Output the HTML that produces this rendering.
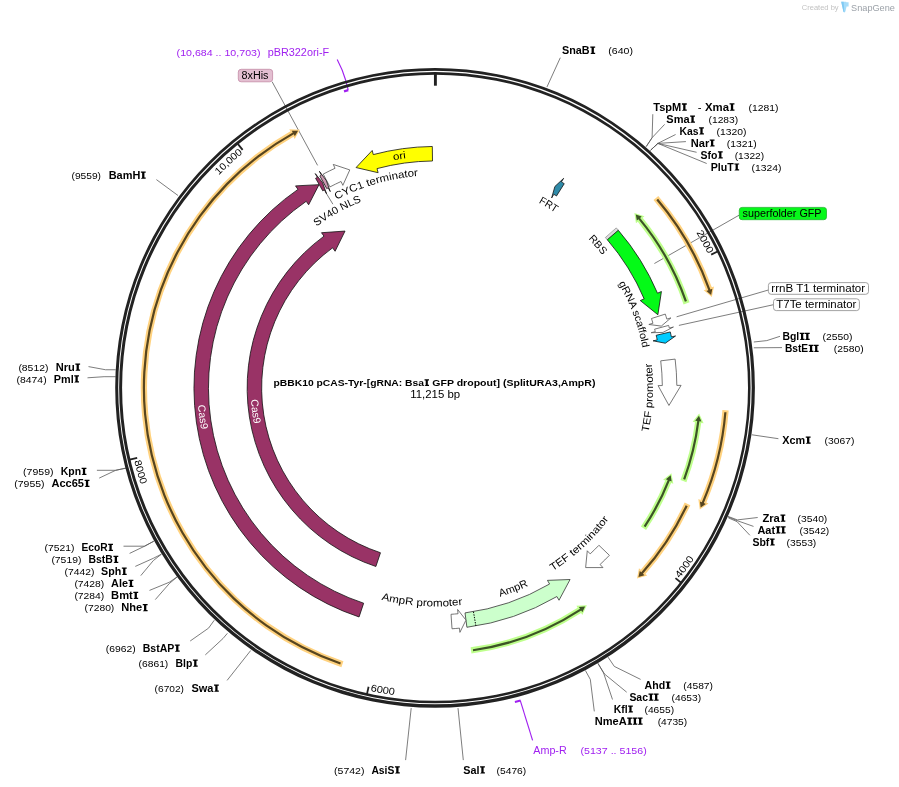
<!DOCTYPE html>
<html><head><meta charset="utf-8"><title>pBBK10 plasmid map</title>
<style>html,body{margin:0;padding:0;background:#fff}svg{display:block;will-change:transform}text{font-family:"Liberation Sans", sans-serif;white-space:pre}</style></head>
<body>
<svg width="899" height="787" viewBox="0 0 899 787" font-family='"Liberation Sans", sans-serif'>
<rect width="899" height="787" fill="#fff"/>
<polyline points="560.3,57.7 546.9,87.1" fill="none" stroke="#5c5c5c" stroke-width="0.8"/>
<polyline points="652.8,114.2 652.1,137.7 646.2,146.6" fill="none" stroke="#5c5c5c" stroke-width="0.8"/>
<polyline points="664.6,124.4 652.1,137.7 646.2,146.6" fill="none" stroke="#5c5c5c" stroke-width="0.8"/>
<polyline points="675.6,134.5 657.8,143.4 650.7,150.2" fill="none" stroke="#5c5c5c" stroke-width="0.8"/>
<polyline points="685.9,141.6 657.8,143.4 650.7,150.2" fill="none" stroke="#5c5c5c" stroke-width="0.8"/>
<polyline points="696.6,152.3 657.8,143.4 650.7,150.2" fill="none" stroke="#5c5c5c" stroke-width="0.8"/>
<polyline points="706.7,163.5 657.8,143.4 650.7,150.2" fill="none" stroke="#5c5c5c" stroke-width="0.8"/>
<polyline points="739.4,215 654.4,263.5" fill="none" stroke="#5c5c5c" stroke-width="0.8"/>
<polyline points="768.4,290 676.6,316.8" fill="none" stroke="#5c5c5c" stroke-width="0.8"/>
<polyline points="773.5,304.7 678.9,325.4" fill="none" stroke="#5c5c5c" stroke-width="0.8"/>
<polyline points="780,336.3 766.8,340.6 753.8,342" fill="none" stroke="#5c5c5c" stroke-width="0.8"/>
<polyline points="782,347.6 753.8,347.8" fill="none" stroke="#5c5c5c" stroke-width="0.8"/>
<polyline points="778.4,438.7 752,434.8" fill="none" stroke="#5c5c5c" stroke-width="0.8"/>
<polyline points="757.7,517.5 737.4,519.9 728,516.4" fill="none" stroke="#5c5c5c" stroke-width="0.8"/>
<polyline points="753.5,526.4 737,520.6 728.2,517" fill="none" stroke="#5c5c5c" stroke-width="0.8"/>
<polyline points="749.9,535.3 737,521.6 728.4,517.9" fill="none" stroke="#5c5c5c" stroke-width="0.8"/>
<polyline points="640.6,679.4 614.3,666.4 608,657.1" fill="none" stroke="#5c5c5c" stroke-width="0.8"/>
<polyline points="626.7,692.2 604.5,674 597.9,663.3" fill="none" stroke="#5c5c5c" stroke-width="0.8"/>
<polyline points="612.5,699.5 603.6,673 597.9,663.3" fill="none" stroke="#5c5c5c" stroke-width="0.8"/>
<polyline points="594.3,711.4 590.3,679.4 585.4,670.5" fill="none" stroke="#5c5c5c" stroke-width="0.8"/>
<polyline points="463.3,760.1 458,708.1" fill="none" stroke="#5c5c5c" stroke-width="0.8"/>
<polyline points="405.6,760.1 411.2,708.1" fill="none" stroke="#5c5c5c" stroke-width="0.8"/>
<polyline points="227.1,680.4 250.7,650.5" fill="none" stroke="#5c5c5c" stroke-width="0.8"/>
<polyline points="205.3,654.9 223,638.5 227.4,633.3" fill="none" stroke="#5c5c5c" stroke-width="0.8"/>
<polyline points="190.2,641 208.6,628.1 214.3,620.2" fill="none" stroke="#5c5c5c" stroke-width="0.8"/>
<polyline points="155.3,599.6 169.2,583.7 177,577" fill="none" stroke="#5c5c5c" stroke-width="0.8"/>
<polyline points="149.5,590.4 169.2,582.3 177,577" fill="none" stroke="#5c5c5c" stroke-width="0.8"/>
<polyline points="140.8,575.6 153.3,560.6 161.4,554.2" fill="none" stroke="#5c5c5c" stroke-width="0.8"/>
<polyline points="135.3,566.4 153.3,558.3 161.4,554.2" fill="none" stroke="#5c5c5c" stroke-width="0.8"/>
<polyline points="129.6,553.4 144.6,546.2 153.8,541.2" fill="none" stroke="#5c5c5c" stroke-width="0.8"/>
<polyline points="123.5,546.2 144.6,546.2 153.8,541.2" fill="none" stroke="#5c5c5c" stroke-width="0.8"/>
<polyline points="96.9,470.3 115.7,470.3 126.4,468" fill="none" stroke="#5c5c5c" stroke-width="0.8"/>
<polyline points="99.2,478.1 115.7,470.3 126.4,468" fill="none" stroke="#5c5c5c" stroke-width="0.8"/>
<polyline points="88.5,366.6 105.6,369.75 115.7,369.75" fill="none" stroke="#5c5c5c" stroke-width="0.8"/>
<polyline points="87.5,377.8 104.1,376.7 115.7,376.7" fill="none" stroke="#5c5c5c" stroke-width="0.8"/>
<polyline points="156.4,179.6 178,195.5" fill="none" stroke="#5c5c5c" stroke-width="0.8"/>
<polyline points="272.1,81.7 317.6,165.4" fill="none" stroke="#5c5c5c" stroke-width="0.8"/>
<polyline points="325.9,192.7 332.9,204.2" fill="none" stroke="#5c5c5c" stroke-width="0.8"/>
<path d="M337.2 59.4 Q342.6 69.5 345.6 80 L348.2 89.9" fill="none" stroke="#a020f0" stroke-width="1.15"/>
<path d="M520.3 700.7 L532.6 740.3" fill="none" stroke="#a020f0" stroke-width="1.15"/>
<path d="M115.2 387.85 a319.85 319.85 0 1 0 639.7 0 a319.85 319.85 0 1 0 -639.7 0 Z M118.2 387.5 a316.75 316.75 0 1 0 633.5 0 a316.75 316.75 0 1 0 -633.5 0 Z" fill="#222" fill-rule="evenodd"/>
<path d="M119.13 387.65 a315.72 315.72 0 1 0 631.44 0 a315.72 315.72 0 1 0 -631.44 0 Z M122.09 387.7 a312.96 312.96 0 1 0 625.92 0 a312.96 312.96 0 1 0 -625.92 0 Z" fill="#222" fill-rule="evenodd"/>
<line x1="435.4" y1="73.9" x2="435.4" y2="85.7" stroke="#222" stroke-width="2.9"/>
<line x1="718.1" y1="251.24" x2="711.17" y2="254.59" stroke="#222" stroke-width="1.8"/>
<path id="tp1" d="M678.58 206.15 A303.6 303.6 0 0 1 720.42 283.31" fill="none"/>
<text font-size="9.94" fill="#000"><textPath href="#tp1" startOffset="31.79" textLength="24.5" lengthAdjust="spacingAndGlyphs">2000</textPath></text>
<line x1="681.48" y1="582.94" x2="675.45" y2="578.16" stroke="#222" stroke-width="1.8"/>
<path id="tp2" d="M658.59 603.05 A310 310 0 0 0 710.57 530.66" fill="none"/>
<text font-size="9.94" fill="#000"><textPath href="#tp2" startOffset="32.46" textLength="24.5" lengthAdjust="spacingAndGlyphs">4000</textPath></text>
<line x1="366.91" y1="694.34" x2="368.59" y2="686.82" stroke="#222" stroke-width="1.8"/>
<path id="tp3" d="M338.84 682.48 A310 310 0 0 0 426.63 697.78" fill="none"/>
<text font-size="9.94" fill="#000"><textPath href="#tp3" startOffset="32.46" textLength="24.5" lengthAdjust="spacingAndGlyphs">6000</textPath></text>
<line x1="129.7" y1="459.61" x2="137.19" y2="457.85" stroke="#222" stroke-width="1.8"/>
<path id="tp4" d="M128.16 429.17 A310 310 0 0 0 152.6 514.87" fill="none"/>
<text font-size="9.94" fill="#000"><textPath href="#tp4" startOffset="32.46" textLength="24.5" lengthAdjust="spacingAndGlyphs">8000</textPath></text>
<line x1="237.79" y1="143.88" x2="242.63" y2="149.86" stroke="#222" stroke-width="1.8"/>
<path id="tp5" d="M197.66 199.08 A303.6 303.6 0 0 1 268.49 134.3" fill="none"/>
<text font-size="9.94" fill="#000"><textPath href="#tp5" startOffset="31.79" textLength="32.8" lengthAdjust="spacingAndGlyphs">10,000</textPath></text>
<path d="M344.0 91.3 L348.3 90.1" fill="none" stroke="#a020f0" stroke-width="2.3"/>
<path d="M514.9 701.9 L520.6 700.6" fill="none" stroke="#a020f0" stroke-width="2.1"/>
<path d="M658.3 195.97 A294.15 294.15 0 0 1 711.82 287.33 L714.03 286.53 L711.81 296.91 L703.7 290.29 L705.9 289.49 A287.85 287.85 0 0 0 653.53 200.08 Z" fill="#ffd27f"/>
<path d="M658.06 198.83 A292.1 292.1 0 0 1 710.41 289.45 L712.34 288.76 L711.15 294.92 L706.41 290.88 L708.34 290.19 A289.9 289.9 0 0 0 656.38 200.26 Z" fill="#57451f"/>
<path d="M689.54 302.37 A268.15 268.15 0 0 0 642.66 217.75 L644.47 216.26 L634.39 212.9 L635.97 223.24 L637.79 221.75 A261.85 261.85 0 0 1 683.57 304.38 Z" fill="#beff8c"/>
<path d="M686.95 301.12 A266.1 266.1 0 0 0 640.11 217.89 L641.69 216.58 L635.77 214.48 L636.84 220.61 L638.42 219.3 A263.9 263.9 0 0 1 684.87 301.84 Z" fill="#3c5426"/>
<path d="M728.68 410.47 A294.15 294.15 0 0 1 706.31 502.49 L708.48 503.41 L699.78 509.5 L698.34 499.12 L700.51 500.04 A287.85 287.85 0 0 0 722.4 409.98 Z" fill="#ffd27f"/>
<path d="M726.48 412.31 A292.1 292.1 0 0 1 703.83 503.08 L705.72 503.89 L700.65 507.59 L699.93 501.4 L701.81 502.21 A289.9 289.9 0 0 0 724.29 412.13 Z" fill="#57451f"/>
<path d="M686.4 482.25 A268.15 268.15 0 0 0 701.25 422.97 L703.58 423.28 L699.15 413.62 L692.67 421.84 L695 422.15 A261.85 261.85 0 0 1 680.51 480.03 Z" fill="#beff8c"/>
<path d="M685.18 479.64 A266.1 266.1 0 0 0 699.41 421.21 L701.44 421.47 L698.94 415.71 L695.19 420.68 L697.22 420.94 A263.9 263.9 0 0 1 683.12 478.88 Z" fill="#3c5426"/>
<path d="M646.1 530.02 A254.15 254.15 0 0 0 671.12 482.92 L673.3 483.8 L671.41 473.34 L663.1 479.68 L665.28 480.56 A247.85 247.85 0 0 1 640.88 526.5 Z" fill="#beff8c"/>
<path d="M645.52 527.2 A252.1 252.1 0 0 0 669.78 480.75 L671.68 481.51 L670.69 475.31 L665.83 479.19 L667.73 479.94 A249.9 249.9 0 0 1 643.68 525.99 Z" fill="#3c5426"/>
<path d="M690.37 505.17 A280.65 280.65 0 0 1 645.46 574.02 L647.22 575.58 L637.02 578.57 L638.98 568.28 L640.74 569.84 A274.35 274.35 0 0 0 684.65 502.54 Z" fill="#ffd27f"/>
<path d="M687.66 506.14 A278.6 278.6 0 0 1 642.92 573.78 L644.45 575.15 L638.46 577.04 L639.76 570.95 L641.28 572.31 A276.4 276.4 0 0 0 685.67 505.21 Z" fill="#57451f"/>
<path d="M471.47 653.61 A268.15 268.15 0 0 0 581.07 613.03 L582.34 615.01 L586.83 605.37 L576.37 605.77 L577.65 607.74 A261.85 261.85 0 0 1 470.62 647.37 Z" fill="#beff8c"/>
<path d="M473.18 651.3 A266.1 266.1 0 0 0 581.22 610.49 L582.34 612.21 L585.1 606.57 L578.89 606.94 L580.01 608.65 A263.9 263.9 0 0 1 472.87 649.13 Z" fill="#3c5426"/>
<path d="M341.42 667.16 A294.65 294.65 0 0 1 290.45 131.37 L289.29 129.33 L299.9 129.81 L294.7 138.9 L293.55 136.86 A288.35 288.35 0 0 0 343.43 661.19 Z" fill="#ffd27f"/>
<path d="M340.17 664.57 A292.6 292.6 0 0 1 292.77 132.42 L291.77 130.63 L298.04 130.79 L294.84 136.13 L293.84 134.34 A290.4 290.4 0 0 0 340.89 662.49 Z" fill="#57451f"/>
<path d="M432.32 146.47 A241.45 241.45 0 0 0 373.29 154.58 L372.19 150.47 L356.07 167.55 L378.11 172.7 L377.02 168.59 A226.95 226.95 0 0 1 432.51 160.97 Z" fill="#ffff00" stroke="#111" stroke-width="0.8" stroke-linejoin="miter"/>
<path d="M323.24 174.08 A241.45 241.45 0 0 1 335.04 168.29 L333.28 164.43 L349.79 169.91 L342.84 185.35 L341.07 181.48 A226.95 226.95 0 0 0 329.97 186.92 Z" fill="#fff" stroke="#555" stroke-width="0.8" stroke-linejoin="miter"/>
<path d="M359.07 616.97 A241.45 241.45 0 0 1 297.97 189.38 L295.55 185.88 L319.01 184.67 L308.64 204.79 L306.23 201.3 A226.95 226.95 0 0 0 363.65 603.21 Z" fill="#993366" stroke="#111" stroke-width="0.8" stroke-linejoin="miter"/>
<path d="M375.89 566.49 A188.25 188.25 0 0 1 324 236.15 L321.49 232.72 L345.04 231.07 L335.1 251.26 L332.58 247.84 A173.75 173.75 0 0 0 380.47 552.74 Z" fill="#993366" stroke="#111" stroke-width="0.8" stroke-linejoin="miter"/>
<path d="M315.59 178.27 A241.45 241.45 0 0 1 317.33 177.29 L315.25 173.58 L322.57 182.67 L326.5 193.64 L324.42 189.94 A226.95 226.95 0 0 0 322.78 190.86 Z" fill="#993366" stroke="#111" stroke-width="0.8" stroke-linejoin="miter"/>
<path d="M319.82 175.91 A241.45 241.45 0 0 1 321.4 175.06 L319.39 171.31 L326.35 180.64 L330.25 191.59 L328.24 187.84 A226.95 226.95 0 0 0 326.76 188.64 Z" fill="#cc99b2" stroke="#111" stroke-width="0.8" stroke-linejoin="miter"/>
<path d="M564.24 183.7 A241.45 241.45 0 0 0 561.43 181.95 L563.65 178.33 L554.9 186.48 L551.64 197.95 L553.86 194.32 A226.95 226.95 0 0 1 556.5 195.96 Z" fill="#2f8ba9" stroke="#111" stroke-width="0.8" stroke-linejoin="miter"/>
<path d="M616.24 227.91 A241.45 241.45 0 0 1 618.31 230.29 L607.33 239.76 A226.95 226.95 0 0 0 605.38 237.52 Z" fill="#fff" stroke="#555" stroke-width="0.5"/>
<line x1="616.76" y1="228.51" x2="605.87" y2="238.08" stroke="#888" stroke-width="0.35"/>
<line x1="617.29" y1="229.11" x2="606.37" y2="238.65" stroke="#888" stroke-width="0.35"/>
<line x1="617.82" y1="229.72" x2="606.86" y2="239.22" stroke="#888" stroke-width="0.35"/>
<path d="M618.31 230.29 A241.45 241.45 0 0 1 657.5 293.2 L661.41 291.53 L657.88 314.75 L640.26 300.55 L644.16 298.88 A226.95 226.95 0 0 0 607.33 239.76 Z" fill="#04fa17" stroke="#111" stroke-width="0.8" stroke-linejoin="miter"/>
<path d="M665.29 314.09 A241.45 241.45 0 0 1 666.85 319.12 L670.92 317.91 L661.3 326.1 L648.87 324.46 L652.95 323.25 A226.95 226.95 0 0 0 651.49 318.52 Z" fill="#fff" stroke="#555" stroke-width="0.8" stroke-linejoin="miter"/>
<path d="M668.62 325.41 A241.45 241.45 0 0 1 669.32 328.06 L673.43 327 L662.94 332.43 L651.15 332.71 L655.27 331.65 A226.95 226.95 0 0 0 654.62 329.16 Z" fill="#fff" stroke="#555" stroke-width="0.8" stroke-linejoin="miter"/>
<path d="M670.28 331.94 A241.45 241.45 0 0 1 671.4 336.88 L675.55 335.98 L665.3 343.21 L653.07 340.84 L657.22 339.94 A226.95 226.95 0 0 0 656.17 335.3 Z" fill="#00ccff" stroke="#111" stroke-width="0.8" stroke-linejoin="miter"/>
<path d="M675.13 359.1 A241.45 241.45 0 0 1 676.84 385.4 L681.09 385.36 L668.94 405.46 L658.09 385.6 L662.34 385.55 A226.95 226.95 0 0 0 660.73 360.83 Z" fill="#fff" stroke="#555" stroke-width="0.8" stroke-linejoin="miter"/>
<path d="M609.38 555.32 A241.45 241.45 0 0 1 600.07 564.49 L602.97 567.59 L585.63 567.57 L587.28 550.77 L590.18 553.88 A226.95 226.95 0 0 0 598.93 545.27 Z" fill="#fff" stroke="#555" stroke-width="0.8" stroke-linejoin="miter"/>
<path d="M466.92 627.28 A241.45 241.45 0 0 0 556.88 596.56 L559.02 600.24 L570.07 579.51 L547.45 580.36 L549.58 584.03 A226.95 226.95 0 0 1 465.02 612.91 Z" fill="#ccffcc" stroke="#333" stroke-width="0.8" stroke-linejoin="miter"/>
<line x1="475.87" y1="625.93" x2="473.44" y2="611.64" stroke="#000" stroke-width="1" stroke-dasharray="1.4 1.2"/>
<path d="M452.03 628.78 A241.45 241.45 0 0 0 459.49 628.15 L459.91 632.37 L465.97 620.1 L457.62 609.49 L458.04 613.72 A226.95 226.95 0 0 1 451.03 614.31 Z" fill="#fff" stroke="#555" stroke-width="0.8" stroke-linejoin="miter"/>
<path id="tp6" d="M369.87 165.87 A231.5 231.5 0 0 1 430.24 156.46" fill="none"/>
<text font-size="10.04" fill="#000"><textPath href="#tp6" startOffset="24.24" textLength="12.8" lengthAdjust="spacingAndGlyphs">ori</textPath></text>
<path id="tp7" d="M317.37 211.07 A212.6 212.6 0 0 1 440.3 175.36" fill="none"/>
<text font-size="10.45" fill="#000"><textPath href="#tp7" startOffset="22.26" textLength="85.5" lengthAdjust="spacingAndGlyphs">CYC1 terminator</textPath></text>
<path id="tp8" d="M300.33 239.86 A200.4 200.4 0 0 1 381.43 194.9" fill="none"/>
<text font-size="10.45" fill="#000"><textPath href="#tp8" startOffset="20.99" textLength="51.6" lengthAdjust="spacingAndGlyphs">SV40 NLS</textPath></text>
<path id="tp9" d="M518.59 192.69 A212.2 212.2 0 0 1 572.7 226.11" fill="none"/>
<text font-size="10.45" fill="#000"><textPath href="#tp9" startOffset="22.22" textLength="19.4" lengthAdjust="spacingAndGlyphs">FRT</textPath></text>
<path id="tp10" d="M571.68 223.68 A213.4 213.4 0 0 1 615.41 273.28" fill="none"/>
<text font-size="10.45" fill="#000"><textPath href="#tp10" startOffset="22.35" textLength="21.7" lengthAdjust="spacingAndGlyphs">RBS</textPath></text>
<path id="tp11" d="M606.62 264.6 A211 211 0 0 1 645.62 369.73" fill="none"/>
<text font-size="10.35" fill="#000"><textPath href="#tp11" startOffset="22.1" textLength="69.3" lengthAdjust="spacingAndGlyphs">gRNA scaffold</textPath></text>
<path id="tp12" d="M642.6 454.37 A217.6 217.6 0 0 0 647.85 340.85" fill="none"/>
<text font-size="10.45" fill="#000"><textPath href="#tp12" startOffset="22.79" textLength="69.4" lengthAdjust="spacingAndGlyphs">TEF promoter</textPath></text>
<path id="tp13" d="M532.92 582.42 A217.6 217.6 0 0 0 621.67 500.38" fill="none"/>
<text font-size="10.45" fill="#000"><textPath href="#tp13" startOffset="22.79" textLength="76.9" lengthAdjust="spacingAndGlyphs">TEF terminator</textPath></text>
<path id="tp14" d="M477.84 602.24 A218.5 218.5 0 0 0 548.59 574.8" fill="none"/>
<text font-size="10.45" fill="#000"><textPath href="#tp14" startOffset="22.88" textLength="30.5" lengthAdjust="spacingAndGlyphs">AmpR</textPath></text>
<path id="tp15" d="M359.39 592.86 A218.6 218.6 0 0 0 485.12 600.77" fill="none"/>
<text font-size="10.45" fill="#000"><textPath href="#tp15" startOffset="22.89" textLength="82" lengthAdjust="spacingAndGlyphs">AmpR promoter</textPath></text>
<path id="tp16" d="M197.63 380.17 A237.9 237.9 0 0 0 206.79 453.72" fill="none"/>
<text font-size="10.35" fill="#fff"><textPath href="#tp16" startOffset="24.91" textLength="24.6" lengthAdjust="spacingAndGlyphs">Cas9</textPath></text>
<path id="tp17" d="M250.76 380.21 A184.8 184.8 0 0 0 258.91 442.68" fill="none"/>
<text font-size="10.35" fill="#fff"><textPath href="#tp17" startOffset="19.35" textLength="24.6" lengthAdjust="spacingAndGlyphs">Cas9</textPath></text>
<text x="176.6" y="56" font-size="9.06" fill="#a020f0" textLength="83.9" lengthAdjust="spacingAndGlyphs">(10,684 .. 10,703)</text>
<text x="267.7" y="56" font-size="10.04" fill="#a020f0" textLength="61.5" lengthAdjust="spacingAndGlyphs">pBR322ori-F</text>
<text x="533.3" y="753.6" font-size="10.04" fill="#a020f0" textLength="33.4" lengthAdjust="spacingAndGlyphs">Amp-R</text>
<text x="580.5" y="753.9" font-size="9.06" fill="#a020f0" textLength="66.2" lengthAdjust="spacingAndGlyphs">(5137 .. 5156)</text>
<rect x="238.3" y="69.3" width="34.3" height="12.5" rx="2.8" ry="2.8" fill="#e3bfd1" stroke="#c48aa6" stroke-width="0.8"/>
<text x="241.5" y="78.7" font-size="10.04" fill="#000" textLength="27" lengthAdjust="spacingAndGlyphs">8xHis</text>
<rect x="739.3" y="207.4" width="87.2" height="12.3" rx="2.8" ry="2.8" fill="#06f81a" stroke="#22b82e" stroke-width="0.8"/>
<text x="742.6" y="216.9" font-size="10.04" fill="#000" textLength="78.9" lengthAdjust="spacingAndGlyphs">superfolder GFP</text>
<rect x="768.4" y="282.6" width="100.1" height="11.7" rx="2.8" ry="2.8" fill="#fff" stroke="#8c8c8c" stroke-width="0.8"/>
<text x="771.3" y="291.6" font-size="10.04" fill="#000" textLength="93.9" lengthAdjust="spacingAndGlyphs">rrnB T1 terminator</text>
<rect x="773.5" y="298.8" width="85.9" height="11.8" rx="2.8" ry="2.8" fill="#fff" stroke="#8c8c8c" stroke-width="0.8"/>
<text x="776.3" y="307.7" font-size="10.04" fill="#000" textLength="80.1" lengthAdjust="spacingAndGlyphs">T7Te terminator</text>
<text x="562" y="53.95" font-size="10.04" font-weight="bold" fill="#000" textLength="27.68" lengthAdjust="spacingAndGlyphs">SnaB</text>
<path d="M590.28 53.95 h4.88 v-1.27 h-1.29 v-4.83 h1.29 v-1.27 h-4.88 v1.27 h1.29 v4.83 Z" fill="#000"/>
<text x="608.3" y="53.95" font-size="9.06" fill="#000" textLength="24.7" lengthAdjust="spacingAndGlyphs">(640)</text>
<text x="666.3" y="122.8" font-size="10.04" font-weight="bold" fill="#000" textLength="23.26" lengthAdjust="spacingAndGlyphs">Sma</text>
<path d="M690.13 122.8 h4.85 v-1.26 h-1.28 v-4.8 h1.28 v-1.26 h-4.85 v1.26 h1.28 v4.8 Z" fill="#000"/>
<text x="708.5" y="122.8" font-size="9.06" fill="#000" textLength="29.7" lengthAdjust="spacingAndGlyphs">(1283)</text>
<text x="679.5" y="134.6" font-size="10.04" font-weight="bold" fill="#000" textLength="19.04" lengthAdjust="spacingAndGlyphs">Kas</text>
<path d="M699.09 134.6 h4.81 v-1.25 h-1.27 v-4.76 h1.27 v-1.25 h-4.81 v1.25 h1.27 v4.76 Z" fill="#000"/>
<text x="716.5" y="134.6" font-size="9.06" fill="#000" textLength="29.9" lengthAdjust="spacingAndGlyphs">(1320)</text>
<text x="690.7" y="146.6" font-size="10.04" font-weight="bold" fill="#000" textLength="18.53" lengthAdjust="spacingAndGlyphs">Nar</text>
<path d="M709.75 146.6 h4.77 v-1.24 h-1.26 v-4.72 h1.26 v-1.24 h-4.77 v1.24 h1.26 v4.72 Z" fill="#000"/>
<text x="726.7" y="146.6" font-size="9.06" fill="#000" textLength="29.9" lengthAdjust="spacingAndGlyphs">(1321)</text>
<text x="700.5" y="158.5" font-size="10.04" font-weight="bold" fill="#000" textLength="16.88" lengthAdjust="spacingAndGlyphs">Sfo</text>
<path d="M717.92 158.5 h4.79 v-1.25 h-1.27 v-4.74 h1.27 v-1.25 h-4.79 v1.25 h1.27 v4.74 Z" fill="#000"/>
<text x="734.7" y="158.5" font-size="9.06" fill="#000" textLength="29.5" lengthAdjust="spacingAndGlyphs">(1322)</text>
<text x="710.8" y="170.6" font-size="10.04" font-weight="bold" fill="#000" textLength="22.99" lengthAdjust="spacingAndGlyphs">PluT</text>
<path d="M734.33 170.6 h4.79 v-1.24 h-1.27 v-4.74 h1.27 v-1.24 h-4.79 v1.24 h1.27 v4.74 Z" fill="#000"/>
<text x="751.6" y="170.6" font-size="9.06" fill="#000" textLength="29.9" lengthAdjust="spacingAndGlyphs">(1324)</text>
<text x="782.4" y="339.9" font-size="10.04" font-weight="bold" fill="#000" textLength="16.78" lengthAdjust="spacingAndGlyphs">Bgl</text>
<path d="M799.72 339.9 h4.8 v-1.25 h-1.27 v-4.75 h1.27 v-1.25 h-4.8 v1.25 h1.27 v4.75 Z" fill="#000"/>
<path d="M804.91 339.9 h4.8 v-1.25 h-1.27 v-4.75 h1.27 v-1.25 h-4.8 v1.25 h1.27 v4.75 Z" fill="#000"/>
<text x="822.5" y="339.9" font-size="9.06" fill="#000" textLength="29.9" lengthAdjust="spacingAndGlyphs">(2550)</text>
<text x="784.9" y="351.9" font-size="10.04" font-weight="bold" fill="#000" textLength="23.23" lengthAdjust="spacingAndGlyphs">BstE</text>
<path d="M808.66 351.9 h4.79 v-1.24 h-1.27 v-4.74 h1.27 v-1.24 h-4.79 v1.24 h1.27 v4.74 Z" fill="#000"/>
<path d="M813.83 351.9 h4.79 v-1.24 h-1.27 v-4.74 h1.27 v-1.24 h-4.79 v1.24 h1.27 v4.74 Z" fill="#000"/>
<text x="833.7" y="351.9" font-size="9.06" fill="#000" textLength="29.9" lengthAdjust="spacingAndGlyphs">(2580)</text>
<text x="782.3" y="443.8" font-size="10.04" font-weight="bold" fill="#000" textLength="22.89" lengthAdjust="spacingAndGlyphs">Xcm</text>
<path d="M805.75 443.8 h4.84 v-1.26 h-1.28 v-4.79 h1.28 v-1.26 h-4.84 v1.26 h1.28 v4.79 Z" fill="#000"/>
<text x="824.6" y="443.8" font-size="9.06" fill="#000" textLength="29.8" lengthAdjust="spacingAndGlyphs">(3067)</text>
<text x="762.4" y="521.8" font-size="10.04" font-weight="bold" fill="#000" textLength="17.5" lengthAdjust="spacingAndGlyphs">Zra</text>
<path d="M780.46 521.8 h4.83 v-1.26 h-1.28 v-4.78 h1.28 v-1.26 h-4.83 v1.26 h1.28 v4.78 Z" fill="#000"/>
<text x="797.6" y="521.8" font-size="9.06" fill="#000" textLength="29.7" lengthAdjust="spacingAndGlyphs">(3540)</text>
<text x="757.4" y="533.6" font-size="10.04" font-weight="bold" fill="#000" textLength="17.68" lengthAdjust="spacingAndGlyphs">Aat</text>
<path d="M775.63 533.6 h4.8 v-1.25 h-1.27 v-4.75 h1.27 v-1.25 h-4.8 v1.25 h1.27 v4.75 Z" fill="#000"/>
<path d="M780.81 533.6 h4.8 v-1.25 h-1.27 v-4.75 h1.27 v-1.25 h-4.8 v1.25 h1.27 v4.75 Z" fill="#000"/>
<text x="799.6" y="533.6" font-size="9.06" fill="#000" textLength="29.7" lengthAdjust="spacingAndGlyphs">(3542)</text>
<text x="752.4" y="545.6" font-size="10.04" font-weight="bold" fill="#000" textLength="16.9" lengthAdjust="spacingAndGlyphs">Sbf</text>
<path d="M769.84 545.6 h4.78 v-1.24 h-1.27 v-4.73 h1.27 v-1.24 h-4.78 v1.24 h1.27 v4.73 Z" fill="#000"/>
<text x="786.6" y="545.6" font-size="9.06" fill="#000" textLength="29.7" lengthAdjust="spacingAndGlyphs">(3553)</text>
<text x="644.5" y="688.7" font-size="10.04" font-weight="bold" fill="#000" textLength="20.62" lengthAdjust="spacingAndGlyphs">Ahd</text>
<path d="M665.67 688.7 h4.82 v-1.25 h-1.28 v-4.77 h1.28 v-1.25 h-4.82 v1.25 h1.28 v4.77 Z" fill="#000"/>
<text x="683.3" y="688.7" font-size="9.06" fill="#000" textLength="29.7" lengthAdjust="spacingAndGlyphs">(4587)</text>
<text x="629.4" y="700.7" font-size="10.04" font-weight="bold" fill="#000" textLength="18.55" lengthAdjust="spacingAndGlyphs">Sac</text>
<path d="M648.51 700.7 h4.83 v-1.26 h-1.28 v-4.78 h1.28 v-1.26 h-4.83 v1.26 h1.28 v4.78 Z" fill="#000"/>
<path d="M653.76 700.7 h4.83 v-1.26 h-1.28 v-4.78 h1.28 v-1.26 h-4.83 v1.26 h1.28 v4.78 Z" fill="#000"/>
<text x="671.6" y="700.7" font-size="9.06" fill="#000" textLength="29.5" lengthAdjust="spacingAndGlyphs">(4653)</text>
<text x="613.7" y="712.6" font-size="10.04" font-weight="bold" fill="#000" textLength="13.89" lengthAdjust="spacingAndGlyphs">Kfl</text>
<path d="M628.1 712.6 h4.74 v-1.23 h-1.26 v-4.7 h1.26 v-1.23 h-4.74 v1.23 h1.26 v4.7 Z" fill="#000"/>
<text x="644.5" y="712.6" font-size="9.06" fill="#000" textLength="29.6" lengthAdjust="spacingAndGlyphs">(4655)</text>
<text x="594.7" y="724.7" font-size="10.04" font-weight="bold" fill="#000" textLength="31.94" lengthAdjust="spacingAndGlyphs">NmeA</text>
<path d="M627.2 724.7 h4.84 v-1.26 h-1.28 v-4.79 h1.28 v-1.26 h-4.84 v1.26 h1.28 v4.79 Z" fill="#000"/>
<path d="M632.48 724.7 h4.84 v-1.26 h-1.28 v-4.79 h1.28 v-1.26 h-4.84 v1.26 h1.28 v4.79 Z" fill="#000"/>
<path d="M637.75 724.7 h4.84 v-1.26 h-1.28 v-4.79 h1.28 v-1.26 h-4.84 v1.26 h1.28 v4.79 Z" fill="#000"/>
<text x="657.7" y="724.7" font-size="9.06" fill="#000" textLength="29.5" lengthAdjust="spacingAndGlyphs">(4735)</text>
<text x="463.3" y="773.6" font-size="10.04" font-weight="bold" fill="#000" textLength="16.2" lengthAdjust="spacingAndGlyphs">Sal</text>
<path d="M480.06 773.6 h4.83 v-1.26 h-1.28 v-4.78 h1.28 v-1.26 h-4.83 v1.26 h1.28 v4.78 Z" fill="#000"/>
<text x="496.6" y="773.6" font-size="9.06" fill="#000" textLength="29.6" lengthAdjust="spacingAndGlyphs">(5476)</text>
<text x="371.4" y="773.6" font-size="10.04" font-weight="bold" fill="#000" textLength="22.99" lengthAdjust="spacingAndGlyphs">AsiS</text>
<path d="M394.95 773.6 h4.83 v-1.26 h-1.28 v-4.79 h1.28 v-1.26 h-4.83 v1.26 h1.28 v4.79 Z" fill="#000"/>
<text x="334" y="773.6" font-size="9.06" fill="#000" textLength="30.5" lengthAdjust="spacingAndGlyphs">(5742)</text>
<text x="191.5" y="691.8" font-size="10.04" font-weight="bold" fill="#000" textLength="21.98" lengthAdjust="spacingAndGlyphs">Swa</text>
<path d="M214.02 691.8 h4.79 v-1.25 h-1.27 v-4.75 h1.27 v-1.25 h-4.79 v1.25 h1.27 v4.75 Z" fill="#000"/>
<text x="154.6" y="691.8" font-size="9.06" fill="#000" textLength="29.4" lengthAdjust="spacingAndGlyphs">(6702)</text>
<text x="175.6" y="666.8" font-size="10.04" font-weight="bold" fill="#000" textLength="16.77" lengthAdjust="spacingAndGlyphs">Blp</text>
<path d="M192.91 666.8 h4.8 v-1.25 h-1.27 v-4.75 h1.27 v-1.25 h-4.8 v1.25 h1.27 v4.75 Z" fill="#000"/>
<text x="138.6" y="666.8" font-size="9.06" fill="#000" textLength="29.7" lengthAdjust="spacingAndGlyphs">(6861)</text>
<text x="142.7" y="651.7" font-size="10.04" font-weight="bold" fill="#000" textLength="31.6" lengthAdjust="spacingAndGlyphs">BstAP</text>
<path d="M174.86 651.7 h4.83 v-1.26 h-1.28 v-4.78 h1.28 v-1.26 h-4.83 v1.26 h1.28 v4.78 Z" fill="#000"/>
<text x="105.7" y="651.7" font-size="9.06" fill="#000" textLength="29.9" lengthAdjust="spacingAndGlyphs">(6962)</text>
<text x="121.2" y="611.2" font-size="10.04" font-weight="bold" fill="#000" textLength="21" lengthAdjust="spacingAndGlyphs">Nhe</text>
<path d="M142.76 611.2 h4.83 v-1.25 h-1.28 v-4.78 h1.28 v-1.25 h-4.83 v1.25 h1.28 v4.78 Z" fill="#000"/>
<text x="84.5" y="611.2" font-size="9.06" fill="#000" textLength="29.8" lengthAdjust="spacingAndGlyphs">(7280)</text>
<text x="111.1" y="599.1" font-size="10.04" font-weight="bold" fill="#000" textLength="21.67" lengthAdjust="spacingAndGlyphs">Bmt</text>
<path d="M133.34 599.1 h4.84 v-1.26 h-1.28 v-4.8 h1.28 v-1.26 h-4.84 v1.26 h1.28 v4.8 Z" fill="#000"/>
<text x="74.4" y="599.1" font-size="9.06" fill="#000" textLength="29.8" lengthAdjust="spacingAndGlyphs">(7284)</text>
<text x="111.1" y="587.1" font-size="10.04" font-weight="bold" fill="#000" textLength="16.87" lengthAdjust="spacingAndGlyphs">Ale</text>
<path d="M128.54 587.1 h4.84 v-1.26 h-1.28 v-4.79 h1.28 v-1.26 h-4.84 v1.26 h1.28 v4.79 Z" fill="#000"/>
<text x="74.4" y="587.1" font-size="9.06" fill="#000" textLength="29.8" lengthAdjust="spacingAndGlyphs">(7428)</text>
<text x="101.1" y="574.9" font-size="10.04" font-weight="bold" fill="#000" textLength="20.17" lengthAdjust="spacingAndGlyphs">Sph</text>
<path d="M121.84 574.9 h4.84 v-1.26 h-1.28 v-4.8 h1.28 v-1.26 h-4.84 v1.26 h1.28 v4.8 Z" fill="#000"/>
<text x="64.6" y="574.9" font-size="9.06" fill="#000" textLength="29.8" lengthAdjust="spacingAndGlyphs">(7442)</text>
<text x="88.5" y="563" font-size="10.04" font-weight="bold" fill="#000" textLength="24.4" lengthAdjust="spacingAndGlyphs">BstB</text>
<path d="M113.46 563 h4.83 v-1.26 h-1.28 v-4.78 h1.28 v-1.26 h-4.83 v1.26 h1.28 v4.78 Z" fill="#000"/>
<text x="51.4" y="563" font-size="9.06" fill="#000" textLength="30" lengthAdjust="spacingAndGlyphs">(7519)</text>
<text x="81.4" y="551" font-size="10.04" font-weight="bold" fill="#000" textLength="26.17" lengthAdjust="spacingAndGlyphs">EcoR</text>
<path d="M108.14 551 h4.84 v-1.26 h-1.28 v-4.8 h1.28 v-1.26 h-4.84 v1.26 h1.28 v4.8 Z" fill="#000"/>
<text x="44.5" y="551" font-size="9.06" fill="#000" textLength="29.9" lengthAdjust="spacingAndGlyphs">(7521)</text>
<text x="60.8" y="474.9" font-size="10.04" font-weight="bold" fill="#000" textLength="20.29" lengthAdjust="spacingAndGlyphs">Kpn</text>
<path d="M81.62 474.9 h4.79 v-1.25 h-1.27 v-4.74 h1.27 v-1.25 h-4.79 v1.25 h1.27 v4.74 Z" fill="#000"/>
<text x="23.1" y="474.9" font-size="9.06" fill="#000" textLength="30.4" lengthAdjust="spacingAndGlyphs">(7959)</text>
<text x="51.4" y="487.1" font-size="10.04" font-weight="bold" fill="#000" textLength="32.62" lengthAdjust="spacingAndGlyphs">Acc65</text>
<path d="M84.6 487.1 h4.87 v-1.27 h-1.29 v-4.82 h1.29 v-1.27 h-4.87 v1.27 h1.29 v4.82 Z" fill="#000"/>
<text x="14.3" y="487.1" font-size="9.06" fill="#000" textLength="30.2" lengthAdjust="spacingAndGlyphs">(7955)</text>
<text x="55.7" y="370.7" font-size="10.04" font-weight="bold" fill="#000" textLength="19.09" lengthAdjust="spacingAndGlyphs">Nru</text>
<path d="M75.32 370.7 h4.79 v-1.25 h-1.27 v-4.74 h1.27 v-1.25 h-4.79 v1.25 h1.27 v4.74 Z" fill="#000"/>
<text x="18.4" y="370.7" font-size="9.06" fill="#000" textLength="30" lengthAdjust="spacingAndGlyphs">(8512)</text>
<text x="53.8" y="382.6" font-size="10.04" font-weight="bold" fill="#000" textLength="19.87" lengthAdjust="spacingAndGlyphs">Pml</text>
<path d="M74.21 382.6 h4.8 v-1.25 h-1.27 v-4.75 h1.27 v-1.25 h-4.8 v1.25 h1.27 v4.75 Z" fill="#000"/>
<text x="16.6" y="382.6" font-size="9.06" fill="#000" textLength="30" lengthAdjust="spacingAndGlyphs">(8474)</text>
<text x="108.7" y="178.8" font-size="10.04" font-weight="bold" fill="#000" textLength="31.6" lengthAdjust="spacingAndGlyphs">BamH</text>
<path d="M140.86 178.8 h4.83 v-1.26 h-1.28 v-4.78 h1.28 v-1.26 h-4.83 v1.26 h1.28 v4.78 Z" fill="#000"/>
<text x="71.5" y="178.8" font-size="9.06" fill="#000" textLength="29.5" lengthAdjust="spacingAndGlyphs">(9559)</text>
<text x="653.3" y="110.7" font-size="10.04" font-weight="bold" fill="#000" textLength="28.04" lengthAdjust="spacingAndGlyphs">TspM</text>
<path d="M681.92 110.7 h4.85 v-1.26 h-1.29 v-4.81 h1.29 v-1.26 h-4.85 v1.26 h1.29 v4.81 Z" fill="#000"/>
<text x="697.8" y="110.7" font-size="10.04" fill="#000" textLength="3.8" lengthAdjust="spacingAndGlyphs">-</text>
<text x="705" y="110.7" font-size="10.04" font-weight="bold" fill="#000" textLength="24.01" lengthAdjust="spacingAndGlyphs">Xma</text>
<path d="M729.59 110.7 h4.87 v-1.27 h-1.29 v-4.82 h1.29 v-1.27 h-4.87 v1.27 h1.29 v4.82 Z" fill="#000"/>
<text x="748.6" y="110.7" font-size="9.06" fill="#000" textLength="29.9" lengthAdjust="spacingAndGlyphs">(1281)</text>
<text x="273.5" y="386" font-size="9.25" font-weight="bold" fill="#000" textLength="150.53" lengthAdjust="spacingAndGlyphs">pBBK10 pCAS-Tyr-[gRNA: Bsa</text>
<path d="M424.53 386 h4.47 v-1.16 h-1.18 v-4.43 h1.18 v-1.16 h-4.47 v1.16 h1.18 v4.43 Z" fill="#000"/>
<text x="432.27" y="386" font-size="9.25" font-weight="bold" fill="#000" textLength="163.16" lengthAdjust="spacingAndGlyphs">GFP dropout] (SplitURA3,AmpR)</text>
<text x="435.2" y="398" font-size="10.04" fill="#000" text-anchor="middle" textLength="49.88" lengthAdjust="spacingAndGlyphs">11,215 bp</text>
<text x="801.8" y="10.3" font-size="7.87" fill="#c2c2c2" textLength="36.8" lengthAdjust="spacingAndGlyphs">Created by</text>
<path d="M841.2 1.7 L846.2 1.7 L846.2 2.3 L848.6 2.3 L848.6 6.6 L846.6 6.6 L845.4 11.4 Q844.4 13 843.4 11.4 Z" fill="#a6dcf9"/>
<path d="M841.2 1.7 L843.6 1.7 L844.4 12.4 Q843.8 12.4 843.4 11.4 Z" fill="#7fc9f3"/>
<text x="851.1" y="10.6" font-size="9.83" fill="#9ba1a8" textLength="43.8" lengthAdjust="spacingAndGlyphs">SnapGene</text>
</svg>
</body></html>
